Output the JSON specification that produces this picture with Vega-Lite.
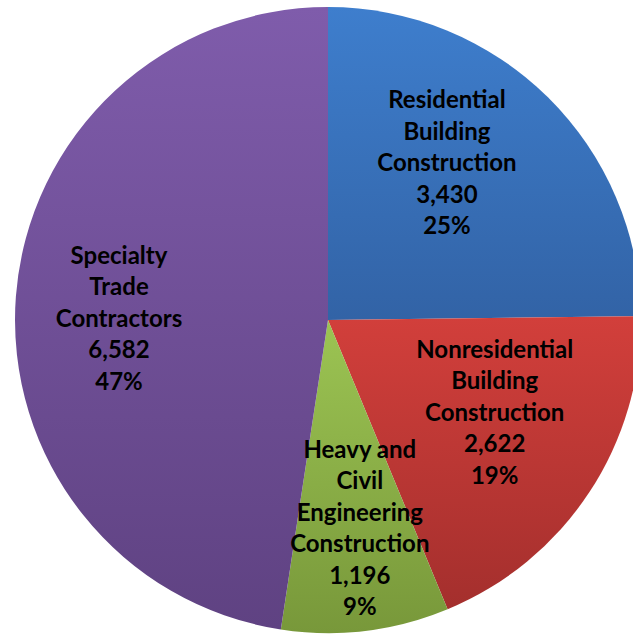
{
  "$schema": "https://vega.github.io/schema/vega-lite/v6.json",
  "width": 610,
  "height": 626,
  "padding": {"left": 23, "top": 7, "right": 0, "bottom": 3},
  "autosize": {"type": "none"},
  "background": "white",
  "config": {"view": {"stroke": null}},
  "data": {
    "values": [
      {"idx": 1, "name": "Residential\nBuilding\nConstruction", "value": 3430, "pct": "25%"},
      {"idx": 2, "name": "Nonresidential\nBuilding\nConstruction", "value": 2622, "pct": "19%"},
      {"idx": 3, "name": "Heavy and\nCivil\nEngineering\nConstruction", "value": 1196, "pct": "9%"},
      {"idx": 4, "name": "Specialty\nTrade\nContractors", "value": 6582, "pct": "47%"}
    ]
  },
  "transform": [
    {"stack": "value", "groupby": [], "sort": [{"field": "idx", "order": "ascending"}], "as": ["v0", "v1"]},
    {"calculate": "(datum.v0 + datum.v1) / 2", "as": "mid"},
    {"calculate": "datum.name + '\\n' + format(datum.value, ',') + '\\n' + datum.pct", "as": "label"}
  ],
  "layer": [
    {
      "transform": [{"filter": "datum.idx == 1"}],
      "mark": {"type": "arc", "outerRadius": 313, "color": {"gradient": "linear", "x1": 0, "y1": 0, "x2": 0, "y2": 1, "stops": [{"offset": 0, "color": "#3E7ECD"}, {"offset": 1, "color": "#3263A6"}]}},
      "encoding": {
        "theta": {"field": "v0", "type": "quantitative", "scale": {"domain": [0, 13830]}},
        "theta2": {"field": "v1"}
      }
    },
    {
      "transform": [{"filter": "datum.idx == 2"}],
      "mark": {"type": "arc", "outerRadius": 313, "color": {"gradient": "linear", "x1": 0, "y1": 0, "x2": 0, "y2": 1, "stops": [{"offset": 0, "color": "#D23F3B"}, {"offset": 1, "color": "#A42F2D"}]}},
      "encoding": {
        "theta": {"field": "v0", "type": "quantitative", "scale": {"domain": [0, 13830]}},
        "theta2": {"field": "v1"}
      }
    },
    {
      "transform": [{"filter": "datum.idx == 3"}],
      "mark": {"type": "arc", "outerRadius": 313, "color": {"gradient": "linear", "x1": 0, "y1": 0, "x2": 0, "y2": 1, "stops": [{"offset": 0, "color": "#9CC453"}, {"offset": 1, "color": "#78983A"}]}},
      "encoding": {
        "theta": {"field": "v0", "type": "quantitative", "scale": {"domain": [0, 13830]}},
        "theta2": {"field": "v1"}
      }
    },
    {
      "transform": [{"filter": "datum.idx == 4"}],
      "mark": {"type": "arc", "outerRadius": 313, "color": {"gradient": "linear", "x1": 0, "y1": 0, "x2": 0, "y2": 1, "stops": [{"offset": 0, "color": "#7F5CAB"}, {"offset": 1, "color": "#5F4282"}]}},
      "encoding": {
        "theta": {"field": "v0", "type": "quantitative", "scale": {"domain": [0, 13830]}},
        "theta2": {"field": "v1"}
      }
    },
    {
      "mark": {"type": "text", "radius": 200, "thetaOffset": -0.085, "dx": -9, "dy": -65, "font": "Lato", "fontWeight": "bold", "fontSize": 24, "lineBreak": "\n", "lineHeight": 31.5, "color": "black", "align": "center", "baseline": "middle"},
      "encoding": {
        "theta": {"field": "mid", "type": "quantitative", "scale": {"domain": [0, 13830]}},
        "text": {"field": "label", "type": "nominal"}
      }
    }
  ]
}
